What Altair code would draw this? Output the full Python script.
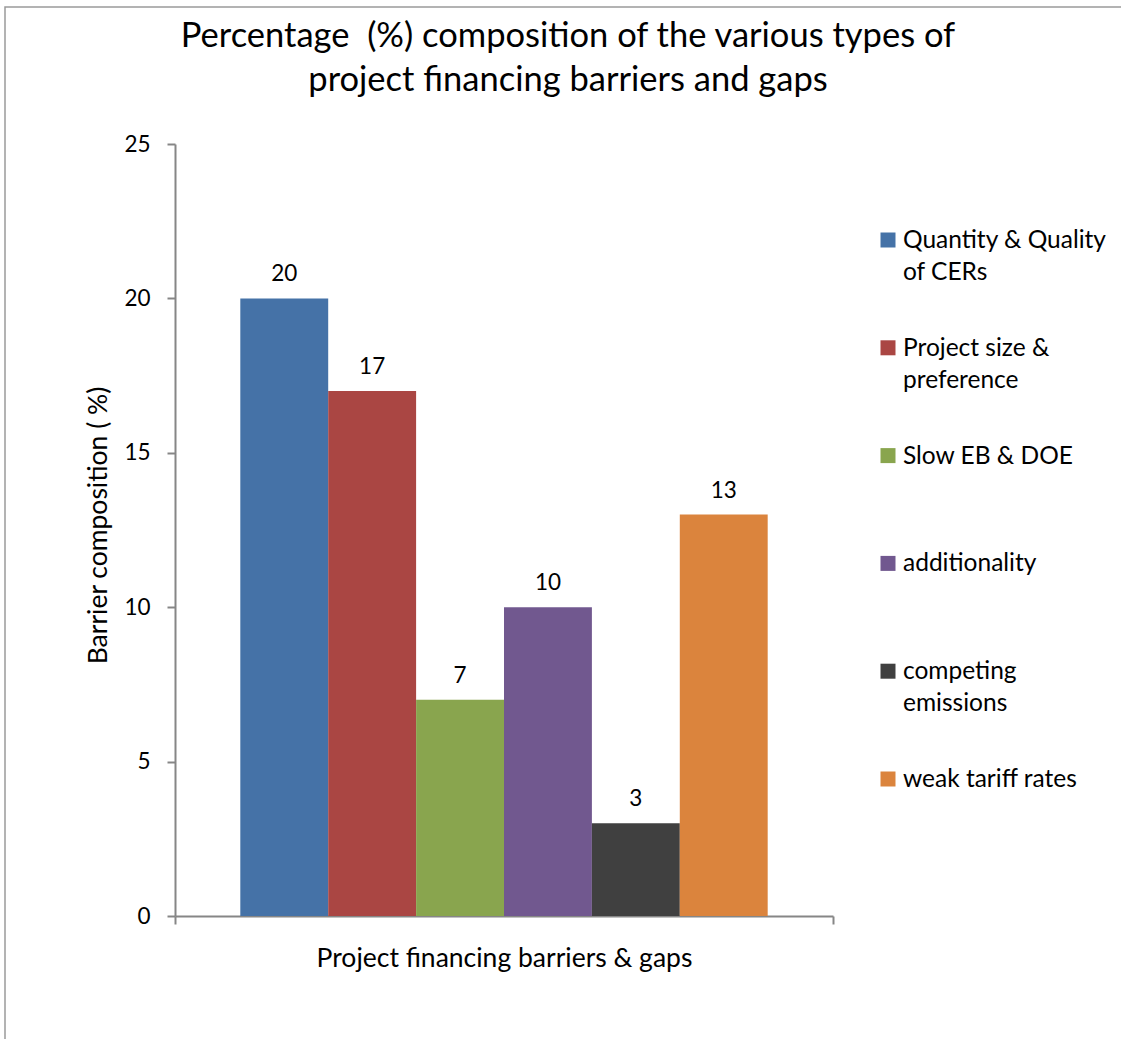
import altair as alt
import pandas as pd

# Barrier categories, their shares (%) and series colours
categories = [
    "Quantity & Quality of CERs",
    "Project size & preference",
    "Slow EB & DOE",
    "additionality",
    "competing emissions",
    "weak tariff rates",
]
legend_labels = [
    "Quantity & Quality\nof CERs",
    "Project size &\npreference",
    "Slow EB & DOE",
    "additionality",
    "competing\nemissions",
    "weak tariff rates",
]
values = [20, 17, 7, 10, 3, 13]
colors = ["#4572A7", "#AA4643", "#89A54E", "#71588F", "#404040", "#DB843D"]
group_label = "Project financing barriers & gaps"
y_ticks = [0, 5, 10, 15, 20, 25]
title_text = ("Percentage \u00a0(%) composition of the various types of\n"
              "project financing barriers and gaps")

FONT = "Lato"
AXIS_GREY = "#868686"

df = pd.DataFrame({
    "group": [group_label] * len(categories),
    "category": categories,
    "value": values,
    "legend_label": legend_labels,
})

color_scale = alt.Scale(domain=categories, range=colors)

base = alt.Chart(df)

x_enc = alt.X(
    "group:N",
    scale=alt.Scale(paddingInner=0, paddingOuter=0),
    axis=alt.Axis(
        title=group_label,
        labels=False,
        tickBand="extent",
        tickSize=8,
        tickColor=AXIS_GREY,
        tickWidth=2,
        domainColor=AXIS_GREY,
        domainWidth=2,
        titleFont=FONT,
        titleFontSize=26.5,
        titleFontWeight="normal",
        titleColor="#000000",
        titlePadding=20,
    ),
)
xoff_enc = alt.XOffset(
    "category:N", sort=categories,
    scale=alt.Scale(paddingInner=0, paddingOuter=0.743),
)
y_enc = alt.Y(
    "value:Q",
    scale=alt.Scale(domain=[0, 25], nice=False),
    axis=alt.Axis(
        values=y_ticks,
        grid=False,
        tickSize=8,
        tickColor=AXIS_GREY,
        tickWidth=2,
        domainColor=AXIS_GREY,
        domainWidth=2,
        labelFont=FONT,
        labelFontSize=22.5,
        labelColor="#000000",
        labelPadding=17,
        title="Barrier composition ( %)",
        titleFont=FONT,
        titleFontSize=26.5,
        titleFontWeight="normal",
        titleColor="#000000",
        titleX=-77,
        titleY=381,
        titleBaseline="middle",
        titleAngle=270,
    ),
)

bars = base.mark_bar().encode(
    x=x_enc,
    xOffset=xoff_enc,
    y=y_enc,
    color=alt.Color("category:N", scale=color_scale, legend=None),
)

bar_labels = base.mark_text(
    font=FONT, fontSize=22.5, baseline="alphabetic", dy=-17, color="#000000"
).encode(
    x=alt.X("group:N"),
    xOffset=alt.XOffset("category:N", sort=categories),
    y=alt.Y("value:Q"),
    text=alt.Text("value:Q"),
)

plot = alt.layer(bars, bar_labels)

# Legend drawn as its own marks on an independent vertical scale
legend_y = alt.Y(
    "category:N", sort=categories, axis=None,
    scale=alt.Scale(type="point", range=[96, 635], padding=0),
)
legend_swatches = base.mark_square(size=225, opacity=1).encode(
    x=alt.value(713),
    y=legend_y,
    color=alt.Color("category:N", scale=color_scale, legend=None),
)
legend_text = base.mark_text(
    font=FONT, fontSize=24.5, align="left", baseline="alphabetic",
    lineBreak="\n", lineHeight=32, dy=8, color="#000000",
).encode(
    x=alt.value(728),
    y=legend_y,
    text="legend_label:N",
)
legend = alt.layer(legend_swatches, legend_text)

one_row = alt.Chart(pd.DataFrame({"t": [title_text]}))

# Outer frame of the figure
frame = one_row.mark_rect(
    filled=False, stroke="#9a9a9a", strokeWidth=1.5
).encode(
    x=alt.value(-170), x2=alt.value(1100),
    y=alt.value(-137), y2=alt.value(1000),
)

# Two-line chart heading
heading = one_row.mark_text(
    font=FONT, fontSize=34.5, align="center", baseline="alphabetic",
    lineBreak="\n", lineHeight=44, color="#000000",
).encode(
    x=alt.value(393),
    y=alt.value(-97),
    text="t:N",
)

chart = alt.layer(
    frame, heading, plot, legend
).resolve_scale(
    y="independent"
).properties(
    width=658,
    height=772,
    autosize=alt.AutoSizeParams(type="none"),
    padding={"left": 175, "top": 144, "right": 288, "bottom": 123},
    background="#ffffff",
).configure_view(
    stroke=None
)

chart.save("out.html", embed_options={"renderer": "svg", "actions": False})
